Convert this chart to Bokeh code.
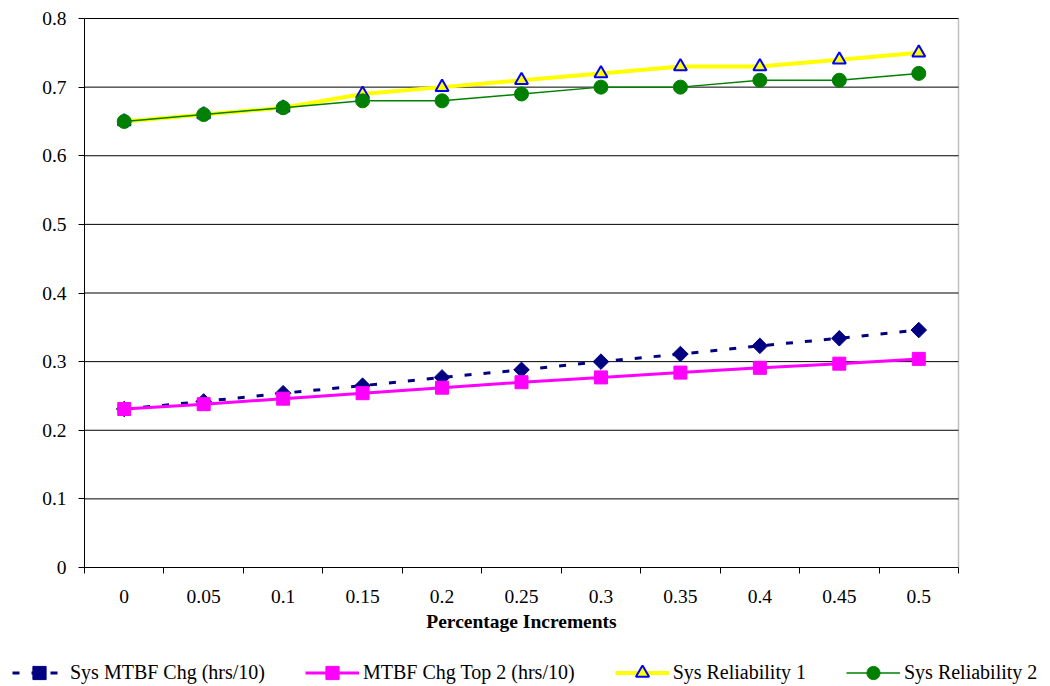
import math
from bokeh.plotting import figure
from bokeh.models import FixedTicker, Range1d, Legend, LegendItem
from bokeh.embed import file_html
from bokeh.resources import INLINE

categories = ["0", "0.05", "0.1", "0.15", "0.2", "0.25", "0.3", "0.35", "0.4", "0.45", "0.5"]
sys_mtbf = [0.231, 0.242, 0.254, 0.265, 0.277, 0.288, 0.300, 0.311, 0.323, 0.334, 0.346]
mtbf_top2 = [0.231, 0.238, 0.246, 0.254, 0.262, 0.270, 0.277, 0.284, 0.291, 0.297, 0.304]
sys_rel1 = [0.65, 0.66, 0.67, 0.69, 0.70, 0.71, 0.72, 0.73, 0.73, 0.74, 0.75]
sys_rel2 = [0.65, 0.66, 0.67, 0.68, 0.68, 0.69, 0.70, 0.70, 0.71, 0.71, 0.72]
series_names = ["Sys MTBF Chg (hrs/10)", "MTBF Chg Top 2 (hrs/10)", "Sys Reliability 1", "Sys Reliability 2"]
y_ticks = [0, 0.1, 0.2, 0.3, 0.4, 0.5, 0.6, 0.7, 0.8]
y_labels = ["0", "0.1", "0.2", "0.3", "0.4", "0.5", "0.6", "0.7", "0.8"]
x_title = "Percentage Increments"
y_min, y_max = 0.0, 0.8

FONT = "Liberation Serif"
FS = "19.5px"
LFS = "20px"

# layout (pixels): canvas and the plotting area inside it
W, H = 1050, 686
AREA_L, AREA_R, AREA_T, AREA_B = 84, 958, 18, 567

n = len(categories)
idx = list(range(n))
x_lo, x_hi = -0.5, n - 0.5
xu = (x_hi - x_lo) / (AREA_R - AREA_L)
yu = (y_max - y_min) / (AREA_B - AREA_T)
x_range = Range1d(x_lo - AREA_L * xu, x_hi + (W - AREA_R) * xu)
y_range = Range1d(y_min - (H - AREA_B) * yu, y_max + AREA_T * yu)

p = figure(width=W, height=H, x_range=x_range, y_range=y_range, title=None,
           output_backend="svg", toolbar_location=None,
           min_border_left=0, min_border_right=0, min_border_top=0, min_border_bottom=0)
p.outline_line_color = None
p.xgrid.visible = False
p.ygrid.visible = False

# light right border, then horizontal gridlines limited to the plot area
p.segment(x0=[x_hi], y0=[y_min], x1=[x_hi], y1=[y_max], line_color="#c0c0c0", line_width=1.5)
grid_y = y_ticks[1:]
p.segment(x0=[x_lo] * len(grid_y), y0=grid_y, x1=[x_hi] * len(grid_y), y1=grid_y,
          line_color="black", line_width=1)

# x axis at y=0 (tick marks between categories, labels at category centres)
xa = p.xaxis[0]
xa.fixed_location = y_min
xa.bounds = (x_lo, x_hi)
xa.ticker = FixedTicker(ticks=idx, minor_ticks=[i - 0.5 for i in range(n + 1)])
xa.major_label_overrides = {i: c for i, c in zip(idx, categories)}
xa.major_tick_out = 0
xa.major_tick_in = 0
xa.minor_tick_out = 6
xa.minor_tick_in = 0
xa.minor_tick_line_color = "black"
xa.axis_line_color = "black"
xa.major_label_text_font = FONT
xa.major_label_text_font_size = FS
xa.major_label_text_color = "black"
xa.major_label_standoff = 16
xa.axis_label = x_title
xa.axis_label_text_font = FONT
xa.axis_label_text_font_size = FS
xa.axis_label_text_font_style = "bold"
xa.axis_label_text_color = "black"
xa.axis_label_standoff = 5

# y axis at the left edge of the category area
ya = p.yaxis[0]
ya.fixed_location = x_lo
ya.bounds = (y_min, y_max)
ya.ticker = FixedTicker(ticks=y_ticks, minor_ticks=[])
ya.major_label_overrides = {t: l for t, l in zip(y_ticks, y_labels)}
ya.major_tick_out = 6
ya.major_tick_in = 0
ya.major_tick_line_color = "black"
ya.axis_line_color = "black"
ya.major_label_text_font = FONT
ya.major_label_text_font_size = FS
ya.major_label_text_color = "black"
ya.major_label_standoff = 12

st = [
    dict(color="#000080", lw=3, dash="7 12", marker="square", angle=math.pi / 4, size=11,
         fill="#000080", mline="#000080", mlw=1),
    dict(color="#FF00FF", lw=3, dash="solid", marker="square", angle=0, size=13,
         fill="#FF00FF", mline="#FF00FF", mlw=1),
    dict(color="#FFFF00", lw=4, dash="solid", marker="triangle", angle=0, size=13,
         fill="#FFFF00", mline="#0000FF", mlw=2),
    dict(color="#008000", lw=1.5, dash="solid", marker="circle", angle=0, size=14,
         fill="#008000", mline="#008000", mlw=1),
]
data = [sys_mtbf, mtbf_top2, sys_rel1, sys_rel2]

items = []
for name, vals, s in zip(series_names, data, st):
    lr = p.line(idx, vals, line_color=s["color"], line_width=s["lw"], line_dash=s["dash"])
    mr = p.scatter(idx, vals, marker=s["marker"], angle=s["angle"], size=s["size"],
                   fill_color=s["fill"], line_color=s["mline"], line_width=s["mlw"])
    items.append(LegendItem(label=name, renderers=[lr, mr]))

legend = Legend(items=items, orientation="horizontal", location=(12, -3))
legend.label_text_font = FONT
legend.label_text_font_size = LFS
legend.label_text_color = "black"
legend.glyph_width = 54
legend.glyph_height = 33
legend.label_height = 33
legend.label_standoff = 4
legend.spacing = 40
legend.padding = 0
legend.margin = 0
legend.border_line_color = None
legend.background_fill_alpha = 0
p.add_layout(legend, "center")

open("out.html", "w").write(file_html(p, INLINE))
